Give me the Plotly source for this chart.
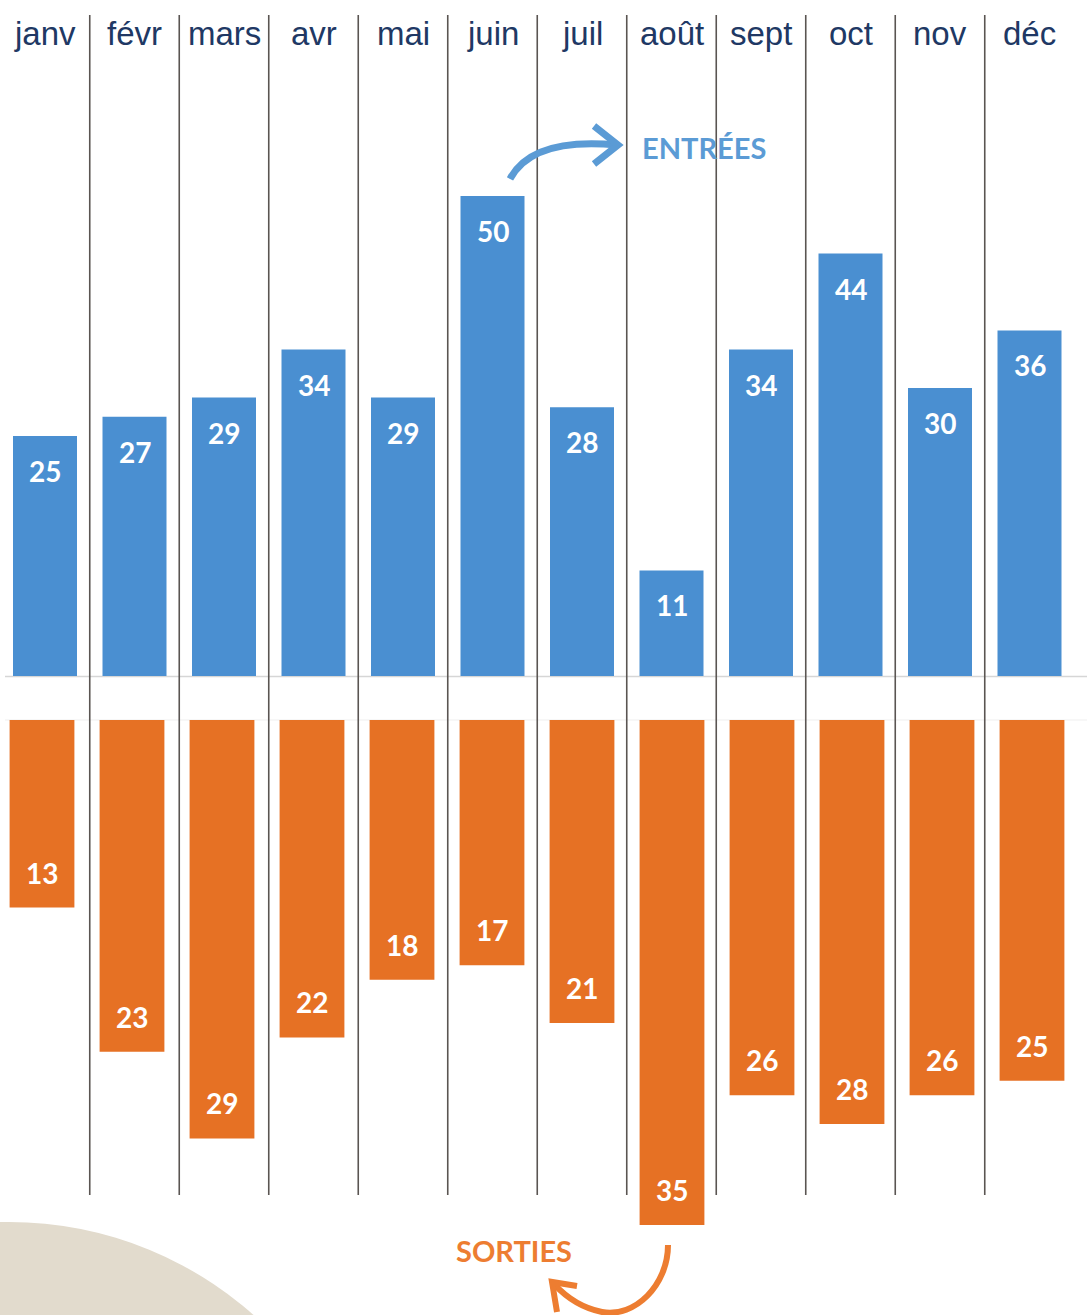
import plotly.graph_objects as go

# ---- data ----
months = ["janv", "févr", "mars", "avr", "mai", "juin", "juil", "août", "sept", "oct", "nov", "déc"]
entrees = [25, 27, 29, 34, 29, 50, 28, 11, 34, 44, 30, 36]
sorties = [13, 23, 29, 22, 18, 17, 21, 35, 26, 28, 26, 25]

W, H = 1087, 1315
BLUE = "#4A8FD1"
BLUE_TXT = "#5B9BD5"
ORANGE = "#E67124"
ORANGE_TXT = "#ED7D31"
NAVY = "#203864"
BEIGE = "#E2DBCD"
SEP = "#5A5552"


def px(x):
    return x / W


def py(y):
    return 1 - y / H


def P(x, y):
    return f"{px(x):.5f},{py(y):.5f}"


xs = list(range(len(months)))

fig = go.Figure()
fig.add_trace(go.Bar(x=xs, y=entrees, marker=dict(color=BLUE, line=dict(width=0)),
                     width=0.715, xaxis="x", yaxis="y", name="Entrées",
                     hoverinfo="x+y"))
fig.add_trace(go.Bar(x=xs, y=sorties, marker=dict(color=ORANGE, line=dict(width=0)),
                     width=0.72, xaxis="x2", yaxis="y2", name="Sorties",
                     hoverinfo="x+y"))

annotations = []
# value labels
for i, v in enumerate(entrees):
    annotations.append(dict(x=i, y=v, xref="x", yref="y", text=str(v), showarrow=False,
                            yanchor="middle", yshift=-35,
                            font=dict(family="Lato", size=28, color="white", weight="bold")))
for i, v in enumerate(sorties):
    annotations.append(dict(x=i, y=v, xref="x2", yref="y2", text=str(v), showarrow=False,
                            yanchor="middle", yshift=35,
                            font=dict(family="Lato", size=28, color="white", weight="bold")))
# month labels
for i, m in enumerate(months):
    annotations.append(dict(x=i, y=py(33), xref="x", yref="paper", text=m, showarrow=False,
                            yanchor="middle", xanchor="center",
                            font=dict(family="Liberation Sans", size=33, color=NAVY)))
# series titles
annotations.append(dict(x=px(640), y=py(147), xref="paper", yref="paper", text="<b>ENTRÉES</b>",
                        showarrow=False, xanchor="left", yanchor="middle",
                        font=dict(family="Lato", size=29, color=BLUE_TXT)))
annotations.append(dict(x=px(454), y=py(1250), xref="paper", yref="paper", text="<b>SORTIES</b>",
                        showarrow=False, xanchor="left", yanchor="middle",
                        font=dict(family="Lato", size=29, color=ORANGE_TXT)))

shapes = []
# beige background disc, bottom-left
shapes.append(dict(type="circle", xref="paper", yref="paper", layer="below",
                   x0=px(-359), x1=px(377), y0=py(1222), y1=py(1958),
                   fillcolor=BEIGE, line=dict(width=0)))
# baselines
shapes.append(dict(type="line", xref="paper", yref="paper", x0=px(5), x1=1,
                   y0=py(676.5), y1=py(676.5),
                   line=dict(color="#D6D6D6", width=1.5), layer="below"))
shapes.append(dict(type="line", xref="paper", yref="paper", x0=px(5), x1=1,
                   y0=py(720), y1=py(720),
                   line=dict(color="#EFEFEF", width=1.2), layer="below"))
# column separators
for i in range(len(months) - 1):
    shapes.append(dict(type="line", xref="x", yref="paper", x0=i + 0.5, x1=i + 0.5,
                       y0=py(15), y1=py(1195), line=dict(color=SEP, width=1.6), layer="above"))
# blue curved arrow
shapes.append(dict(type="path", xref="paper", yref="paper",
                   path=f"M {P(510, 179)} Q {P(532, 137)} {P(617, 145)}",
                   line=dict(color=BLUE_TXT, width=7)))
shapes.append(dict(type="path", xref="paper", yref="paper",
                   path=f"M {P(594, 126)} L {P(618, 145)} L {P(594, 164)}",
                   line=dict(color=BLUE_TXT, width=7)))
# orange curved arrow
shapes.append(dict(type="path", xref="paper", yref="paper",
                   path=f"M {P(668, 1245)} C {P(668, 1285)} {P(635, 1318)} {P(602, 1312)} "
                        f"C {P(582, 1308)} {P(565, 1296)} {P(554, 1284)}",
                   line=dict(color=ORANGE_TXT, width=6)))
shapes.append(dict(type="path", xref="paper", yref="paper",
                   path=f"M {P(577, 1286)} L {P(552, 1282)} L {P(557, 1312)}",
                   line=dict(color=ORANGE_TXT, width=6)))

ax_common = dict(showgrid=False, zeroline=False, showticklabels=False, ticks="",
                 showline=False, fixedrange=True)

fig.update_layout(
    width=W, height=H,
    margin=dict(l=0, r=0, t=0, b=0),
    paper_bgcolor="white", plot_bgcolor="rgba(0,0,0,0)",
    showlegend=False, barmode="overlay",
    xaxis=dict(domain=[px(0.25), px(1074.25)], range=[-0.5, 11.5], anchor="y", **ax_common),
    yaxis=dict(domain=[py(676), py(100)], range=[0, 60], anchor="x", **ax_common),
    xaxis2=dict(domain=[0, px(1077)], range=[11.5 - 1077 / 90, 11.5], anchor="y2", **ax_common),
    yaxis2=dict(domain=[py(720 + 36 * 505 / 35), py(720)], range=[36, 0], anchor="x2", **ax_common),
    annotations=annotations,
    shapes=shapes,
)

fig.write_html("out.html", config={"displayModeBar": False},
               post_script="document.body.style.margin='0';document.body.style.padding='0';")
